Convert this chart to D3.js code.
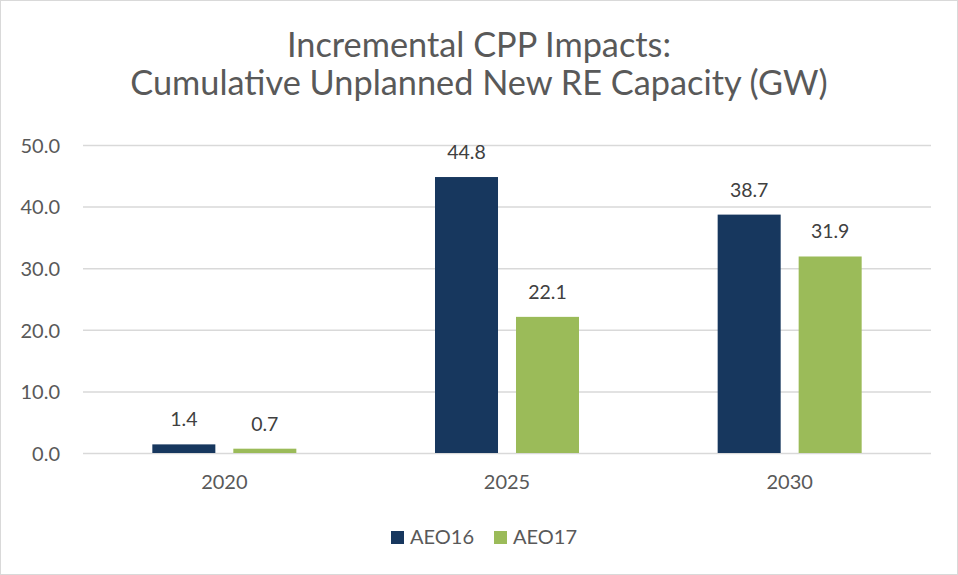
<!DOCTYPE html>
<html>
<head>
<meta charset="utf-8">
<script src="https://cdn.jsdelivr.net/npm/d3@7"></script>
<style>
  html, body { margin: 0; padding: 0; background: #fff; }
  svg { display: block; }
  text { font-family: Lato, "Open Sans", sans-serif; }
</style>
</head>
<body>
<svg id="chart" width="958" height="575"></svg>
<script>
const categories = ["2020", "2025", "2030"];
const seriesNames = ["AEO16", "AEO17"];
const aeo16 = [1.4, 44.8, 38.7];
const aeo17 = [0.7, 22.1, 31.9];
const yTicks = [0, 10, 20, 30, 40, 50];
const titleLines = ["Incremental CPP Impacts:", "Cumulative Unplanned New RE Capacity (GW)"];
const colors = ["#17375E", "#9BBB59"];

const W = 958, H = 575;
const margin = { left: 83, right: 27, top: 145, bottom: 122 };
const svg = d3.select("#chart");

svg.append("rect").attr("x", 0.5).attr("y", 0.5).attr("width", W - 1).attr("height", H - 1)
  .attr("fill", "#fff").attr("stroke", "#d9d9d9");

const x0 = d3.scaleBand().domain(categories).range([margin.left, W - margin.right]).paddingInner(0).paddingOuter(0);
const x1 = d3.scaleBand().domain(seriesNames).range([0, x0.bandwidth()]).paddingInner(0.222).paddingOuter(0.856);
const y = d3.scaleLinear().domain([0, 50]).range([H - margin.bottom, margin.top]);

// gridlines
const yAxis = d3.axisLeft(y).tickValues(yTicks).tickFormat(d3.format(".1f")).tickSize(-(W - margin.left - margin.right)).tickPadding(23);
const gy = svg.append("g").attr("transform", `translate(${margin.left},0)`).call(yAxis);
gy.select(".domain").remove();
gy.selectAll(".tick line").attr("stroke", "#d9d9d9").attr("stroke-width", 1.5);
gy.selectAll(".tick text").attr("fill", "#595959").style("font-size", "20px").attr("dy", "0.36em");

// bars
const data = categories.map((c, i) => ({ cat: c, vals: [aeo16[i], aeo17[i]] }));
const groups = svg.append("g").selectAll("g").data(data).join("g")
  .attr("transform", d => `translate(${x0(d.cat)},0)`);
groups.selectAll("rect").data(d => d.vals.map((v, j) => ({ v, s: seriesNames[j], j })))
  .join("rect")
  .attr("x", d => x1(d.s)).attr("width", x1.bandwidth())
  .attr("y", d => y(d.v)).attr("height", d => y(0) - y(d.v))
  .attr("fill", d => colors[d.j]);
groups.selectAll("text.lbl").data(d => d.vals.map((v, j) => ({ v, s: seriesNames[j], j })))
  .join("text").attr("class", "lbl")
  .attr("x", d => x1(d.s) + x1.bandwidth() / 2)
  .attr("y", d => y(d.v) - 18)
  .attr("text-anchor", "middle").attr("fill", "#404040").style("font-size", "19.5px")
  .text(d => d3.format(".1f")(d.v));

// x axis labels
const xAxis = d3.axisBottom(x0).tickSize(0).tickPadding(22);
const gx = svg.append("g").attr("transform", `translate(0,${y(0)})`).call(xAxis);
gx.select(".domain").remove();
gx.selectAll(".tick text").attr("fill", "#595959").style("font-size", "20px");

// title
const title = svg.append("g");
title.selectAll("text").data(titleLines).join("text")
  .attr("x", W / 2).attr("y", (d, i) => 57 + i * 38)
  .attr("text-anchor", "middle").attr("fill", "#595959").style("font-size", "34.3px")
  .text(d => d);

// legend
const legend = svg.append("g");
const legX = [391, 494];
seriesNames.forEach((s, i) => {
  const g = legend.append("g").attr("transform", `translate(${legX[i]},531)`);
  g.append("rect").attr("width", 13).attr("height", 13).attr("fill", colors[i]);
  g.append("text").attr("x", 19).attr("y", 13).attr("fill", "#595959").style("font-size", "20px").text(s);
});
</script>
</body>
</html>
